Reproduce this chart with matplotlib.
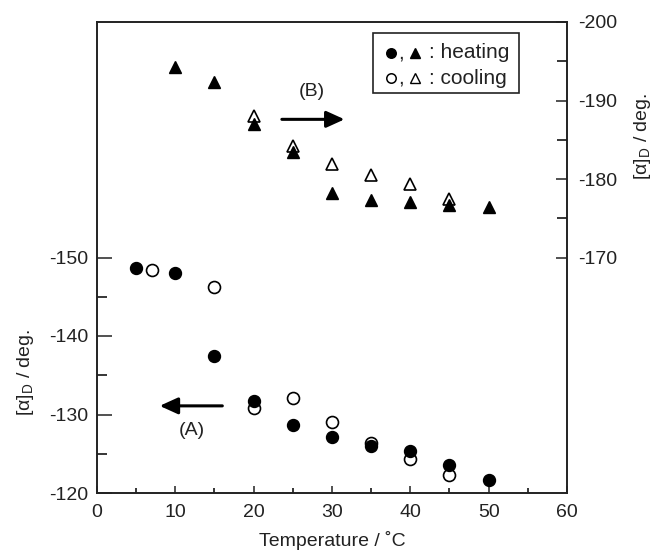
import matplotlib
matplotlib.use("Agg")
import matplotlib.pyplot as plt
from matplotlib.patches import Rectangle
from matplotlib.ticker import MultipleLocator, FixedLocator
import numpy as np

plt.rcParams["font.family"] = ["Liberation Sans", "DejaVu Sans"]
plt.rcParams["mathtext.fontset"] = "custom"
plt.rcParams["mathtext.rm"] = "Liberation Sans"
plt.rcParams["axes.unicode_minus"] = False

# optical rotation vs temperature, circles -> left axis, triangles -> right axis
temp_heat_c = [5, 10, 15, 20, 25, 30, 35, 40, 45, 50]
rot_heat_c = [-148.6, -148.0, -137.5, -131.7, -128.7, -127.1, -126.0, -125.4, -123.6, -121.6]
temp_cool_c = [7, 15, 20, 25, 30, 35, 40, 45]
rot_cool_c = [-148.4, -146.3, -130.8, -132.1, -129.0, -126.4, -124.3, -122.3]

temp_heat_t = [10, 15, 20, 25, 30, 35, 40, 45, 50]
rot_heat_t = [-194.3, -192.3, -187.0, -183.5, -178.2, -177.3, -177.1, -176.7, -176.4]
temp_cool_t = [20, 25, 30, 35, 40, 45]
rot_cool_t = [-188.0, -184.2, -181.9, -180.5, -179.3, -177.4]

ink = "#222222"
fs = 14

fig = plt.figure(figsize=(6.57, 5.55), dpi=100)
ax = fig.add_axes([97 / 657, 1 - 493 / 555, 470 / 657, 471 / 555])
ax2 = ax.twinx()

ax.plot(temp_cool_c, rot_cool_c, "o", ms=8.6, mfc="white", mec="black", mew=1.2, zorder=3)
ax.plot(temp_heat_c, rot_heat_c, "o", ms=8.6, color="black", zorder=4)
ax2.plot(temp_cool_t, rot_cool_t, "^", ms=9, mfc="white", mec="black", mew=1.2, zorder=3)
ax2.plot(temp_heat_t, rot_heat_t, "^", ms=9, color="black", zorder=4)

ax.set_xlim(0, 60)
ax.set_ylim(-120, -180)
ax2.set_ylim(-140, -200)

ax.xaxis.set_major_locator(MultipleLocator(10))
ax.xaxis.set_minor_locator(MultipleLocator(5))
ax.yaxis.set_major_locator(FixedLocator([-150, -140, -130, -120]))
ax.yaxis.set_minor_locator(FixedLocator([-145, -135, -125]))
ax2.yaxis.set_major_locator(FixedLocator([-200, -190, -180, -170]))
ax2.yaxis.set_minor_locator(FixedLocator([-195, -185, -175]))

ax.tick_params(axis="x", which="major", direction="in", length=5, width=1.1, pad=8,
               labelsize=fs, colors=ink, top=False)
ax.tick_params(axis="x", which="minor", direction="in", length=3.5, width=1.1, top=False)
ax.tick_params(axis="y", which="major", direction="in", length=11, width=1.1, pad=6,
               labelsize=fs, colors=ink, right=False)
ax.tick_params(axis="y", which="minor", direction="in", length=7, width=1.1, right=False)
ax2.tick_params(axis="y", which="major", direction="in", length=8, width=1.1, pad=8,
                labelsize=fs, colors=ink)
ax2.tick_params(axis="y", which="minor", direction="in", length=7, width=1.1)

for a in (ax, ax2):
    for s in a.spines.values():
        s.set_linewidth(1.2)
        s.set_color(ink)

ax.set_xlabel("Temperature / ˚C", fontsize=fs, color=ink, labelpad=7)

ax.text(-72 / 470, 0.255, r"[α]$_\mathrm{D}$ / deg.", transform=ax.transAxes, rotation=90,
        ha="center", va="center", fontsize=fs, color=ink)
ax.text(1 + 76 / 470, 0.756, r"[α]$_\mathrm{D}$ / deg.", transform=ax.transAxes, rotation=90,
        ha="center", va="center", fontsize=fs, color=ink)

# arrows pointing to the relevant axis
arrow = dict(arrowstyle="-|>,head_length=0.55,head_width=0.25", lw=2.2, color="black",
             mutation_scale=20, shrinkA=0, shrinkB=0)
ax.annotate("", xy=(8.0, -131.1), xytext=(16.0, -131.1), arrowprops=arrow)
ax.text(12.1, -128.0, "(A)", ha="center", va="center", fontsize=fs, color=ink)
ax.annotate("", xy=(31.6, -167.6), xytext=(23.6, -167.6), arrowprops=arrow)
ax.text(27.4, -171.1, "(B)", ha="center", va="center", fontsize=fs, color=ink)

# legend box drawn by hand, symbols as markers in axes fraction
def px(x, y):
    return (x - 97) / 470, (493 - y) / 471

ax.add_patch(Rectangle(px(373, 93), 146 / 470, 60 / 471, transform=ax.transAxes,
                       fill=False, lw=1.2, edgecolor=ink, zorder=5))
rows = [(53, "black", ": heating"), (78, "white", ": cooling")]
for yy, face, label in rows:
    ax.plot(*px(391.5, yy), "o", ms=6.8, mfc=face, mec="black", mew=1.1,
            transform=ax.transAxes, clip_on=False, zorder=6)
    ax.plot(*px(415.5, yy), "^", ms=7.6, mfc=face, mec="black", mew=1.0,
            transform=ax.transAxes, clip_on=False, zorder=6)
    ax.text(*px(398, yy), ",", transform=ax.transAxes, ha="left", va="center",
            fontsize=15, color=ink)
    ax.text(*px(429, yy), label, transform=ax.transAxes, ha="left", va="center",
            fontsize=15, color=ink)

fig.savefig("out.png", dpi=100)
